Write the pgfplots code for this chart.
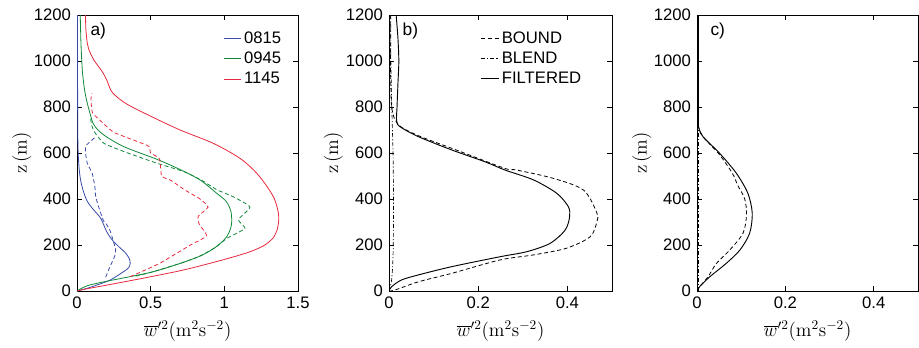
\documentclass[border=0pt]{standalone}
\usepackage[no-math]{fontspec}
\setmainfont{Liberation Sans}
\usepackage{pgfplots}
\pgfplotsset{compat=1.18}
\definecolor{cblue}{RGB}{55,75,170}
\definecolor{cgreen}{RGB}{15,135,55}
\definecolor{cred}{RGB}{232,40,60}
\pgfplotsset{
  myax/.style={
    scale only axis, height=207pt, ymin=0, ymax=1200,
    ytick={0,200,400,600,800,1000,1200},
    yticklabels={0,200,400,600,800,1000,1200},
    tick align=inside, major tick length=4pt,
    tick style={black, line width=0.5pt},
    axis line style={line width=0.6pt},
    tick label style={font=\fontsize{12.5}{13}\selectfont},
    label style={font=\fontsize{14}{15}\selectfont},
    ylabel={$\mathrm{z\,(m)}$},
    xlabel={$\overline{w}'^{2}(\mathrm{m^{2}s^{-2}})$},
    ylabel style={at={(axis description cs:-0.25,0.5)}, anchor=center},
    xlabel style={at={(axis description cs:0.5,-0.145)}, anchor=center},
    xticklabel style={yshift=-1pt},
    yticklabel style={xshift=-1pt},
    legend cell align=left,
    legend image code/.code={\draw[#1] (0pt,0pt) -- (13pt,0pt);},
    clip=true,
  },
  dsh/.style={dash pattern=on 3pt off 2pt},
  dd/.style={dash pattern=on 3pt off 1.5pt on 0.8pt off 1.5pt},
  sm/.style={smooth, tension=0.5},
}
\begin{document}
\begin{tikzpicture}
\path[use as bounding box] (-57.75pt,-42pt) rectangle (631.5pt,218.25pt);
% ---------------- panel a
\begin{axis}[myax, at={(0pt,0pt)}, anchor=south west, width=165.75pt,
  xmin=0, xmax=1.5, xtick={0,0.5,1,1.5}, xticklabels={0,0.5,1,1.5},
  legend style={draw=none, fill=none, at={(axis description cs:0.655,0.955)}, anchor=north west,
    font=\fontsize{12.5}{13}\selectfont, row sep=1pt, inner sep=1pt}]
\addplot[cblue, sm, line width=0.6pt] coordinates {(0,0)(0.07,12)(0.135,26)(0.226,48)(0.316,84)(0.35,101)(0.361,120)(0.355,140)(0.33,165)(0.28,195)(0.235,225)(0.2,260)(0.161,316)(0.11,355)(0.07,390)(0.045,430)(0.025,480)(0.015,530)(0.008,600)(0.005,700)(0.004,900)(0.003,1200)};
\addlegendentry{0815}
\addplot[cgreen, sm, line width=0.6pt] coordinates {(0,0)(0.07,23)(0.206,43)(0.5,81)(0.7,120)(0.835,152)(0.94,190)(1.016,236)(1.048,287)(1.045,345)(1.012,390)(0.948,425)(0.835,483)(0.7,528)(0.545,572)(0.32,627)(0.183,678)(0.115,722)(0.085,780)(0.065,830)(0.05,880)(0.036,960)(0.027,1077)(0.022,1200)};
\addlegendentry{0945}
\addplot[cred, sm, line width=0.6pt] coordinates {(0,0)(0.07,10)(0.206,26)(0.5,62)(0.72,91)(0.9,120)(1.06,148)(1.18,172)(1.27,198)(1.33,230)(1.36,270)(1.37,320)(1.36,360)(1.34,400)(1.3,445)(1.22,512)(1.106,577)(0.925,642)(0.7,700)(0.5,760)(0.34,812)(0.26,850)(0.229,874)(0.2,920)(0.172,953)(0.115,1004)(0.08,1050)(0.07,1077)(0.06,1140)(0.058,1200)};
\addlegendentry{1145}
\addplot[cblue, dsh, smooth, tension=0.3, line width=0.6pt] coordinates {(0.195,60)(0.22,100)(0.255,150)(0.262,180)(0.245,220)(0.225,262)(0.2,290)(0.18,305)(0.15,360)(0.127,410)(0.122,450)(0.104,510)(0.07,555)(0.058,600)(0.06,630)(0.09,650)(0.127,670)};
\addplot[cgreen, dsh, smooth, tension=0.3, line width=0.6pt] coordinates {(0.4,65)(0.5,81)(0.7,120)(0.835,152)(0.94,190)(1.02,230)(1.14,272)(1.095,310)(1.174,365)(1.06,410)(0.95,440)(0.85,480)(0.726,519)(0.545,555)(0.32,606)(0.183,642)(0.12,690)(0.1,720)(0.09,760)};
\addplot[cred, dsh, smooth, tension=0.3, line width=0.6pt] coordinates {(0.36,62)(0.56,120)(0.77,200)(0.88,240)(0.83,290)(0.823,325)(0.89,365)(0.835,400)(0.73,440)(0.64,480)(0.575,500)(0.56,575)(0.5,600)(0.49,628)(0.43,645)(0.25,690)(0.16,740)(0.105,775)(0.095,830)(0.1,860)};
\node[anchor=north west, font=\fontsize{13}{14}\selectfont] at (axis description cs:0.04,0.99) {a)};
\end{axis}
% ---------------- panel b
\begin{axis}[myax, at={(234pt,0pt)}, anchor=south west, width=167.25pt,
  xmin=0, xmax=0.5, xtick={0,0.2,0.4}, xticklabels={0,0.2,0.4},
  legend style={draw=none, fill=none, at={(axis description cs:0.405,0.955)}, anchor=north west,
    font=\fontsize{12.5}{13}\selectfont, row sep=1pt, inner sep=1pt}]
\addplot[black, dsh, sm, line width=0.6pt] coordinates {(0,0)(0.013,4)(0.066,40)(0.141,77)(0.249,135)(0.324,157)(0.398,186)(0.451,236)(0.466,300)(0.466,340)(0.436,439)(0.368,490)(0.286,526)(0.26,533)(0.155,610)(0.07,672)(0.028,712)(0.013,747)(0.006,800)(0.004,900)(0.003,1050)(0.003,1200)};
\addlegendentry{BOUND}
\addplot[black, dd, sm, line width=0.5pt] coordinates {(0,0)(0.006,50)(0.009,150)(0.01,300)(0.01,450)(0.009,600)(0.007,750)(0.005,900)(0.004,1050)(0.004,1200)};
\addlegendentry{BLEND}
\addplot[black, sm, line width=0.7pt] coordinates {(0,0)(0.006,19)(0.028,48)(0.066,70)(0.141,106)(0.249,149)(0.309,171)(0.361,207)(0.395,265)(0.405,323)(0.402,367)(0.376,425)(0.324,483)(0.26,526)(0.215,562)(0.141,613)(0.066,671)(0.025,714)(0.017,740)(0.018,800)(0.02,900)(0.022,1000)(0.02,1100)(0.016,1200)};
\addlegendentry{FILTERED}
\node[anchor=north west, font=\fontsize{13}{14}\selectfont] at (axis description cs:0.04,0.99) {b)};
\end{axis}
% ---------------- panel c
\begin{axis}[myax, at={(465pt,0pt)}, anchor=south west, width=165.75pt,
  xmin=0, xmax=0.5, xtick={0,0.2,0.4}, xticklabels={0,0.2,0.4}]
\addplot[black, dd, line width=0.5pt] coordinates {(0.002,0)(0.002,300)(0.002,600)(0.002,900)(0.002,1200)};
\addplot[black, dsh, sm, line width=0.6pt] coordinates {(0,0)(0.006,19)(0.025,62)(0.044,120)(0.074,178)(0.104,251)(0.112,330)(0.108,400)(0.092,460)(0.08,512)(0.05,595)(0.016,665)(0.004,710)(0.002,760)(0.002,1200)};
\addplot[black, sm, line width=0.7pt] coordinates {(0,0)(0.006,19)(0.029,62)(0.066,120)(0.097,178)(0.119,251)(0.125,338)(0.115,425)(0.089,512)(0.051,599)(0.0136,671)(0.004,710)(0.003,760)(0.003,1200)};
\node[anchor=north west, font=\fontsize{13}{14}\selectfont] at (axis description cs:0.04,0.99) {c)};
\end{axis}
\end{tikzpicture}
\end{document}
